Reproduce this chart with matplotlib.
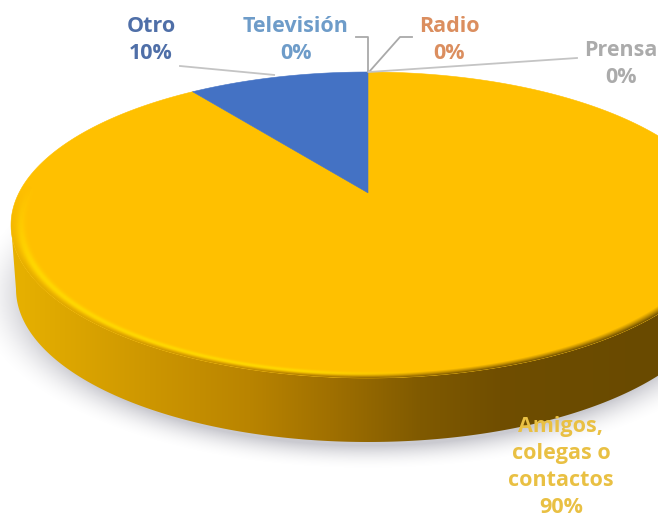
#!/usr/bin/env python3
"""Tilted 3D pie: how people heard about it, with a lit rim and soft shadow."""

import numpy as np
import matplotlib
matplotlib.use('Agg')
import matplotlib.pyplot as plt
from matplotlib.patches import Polygon, Ellipse

plt.rcParams['font.family'] = ['Open Sans', 'DejaVu Sans']

W, H = 658, 520

# clockwise from twelve o'clock
CATEGORIES = ['Amigos,\ncolegas o\ncontactos', 'Otro', 'Televisión', 'Radio', 'Prensa']
VALUES = [90, 10, 0, 0, 0]
COLORS = ['#FFC000', '#4472C4', '#5B9BD5', '#ED7D31', '#A5A5A5']
LABEL_COLORS = ['#E9C043', '#4F6FA8', '#6E9CC9', '#DB8E5F', '#ABABAB']

# ── Geometry (pixels) ────────────────────────────────────────────────────────
CX, CY = 368, 225       # top ellipse centre
A, B = 357, 153         # top ellipse radii
DEPTH = 64              # thickness of the disc
K = 0.21                # perspective shift of the pie centre


def rim_point(turn):
    """Project a pie angle (fraction of a full turn) onto the top ellipse."""
    t = 2 * np.pi * np.asarray(turn, dtype=float)
    d = 1 + K * np.cos(t)
    u = np.sqrt(1 - K**2) * np.sin(t) / d
    v = (np.cos(t) + K) / d
    return CX + A * u, CY - B * v


fig = plt.figure(figsize=(W / 100, H / 100), dpi=100)
ax = fig.add_axes([0, 0, 1, 1])
ax.axis('off')

xx, yy = np.meshgrid(np.arange(W) + 0.5, np.arange(H) + 0.5)
extent = (0, W, H, 0)

# ── Ground shadow ────────────────────────────────────────────────────────────
r_sh = np.hypot((xx - CX) / (A - 2), (yy - (CY + DEPTH + 6)) / (B + 4))
shadow = np.zeros((H, W, 4))
shadow[..., :3] = (0.66, 0.66, 0.70)
shadow[..., 3] = 0.6 * np.clip((1.11 - r_sh) / 0.15, 0, 1) ** 1.8
ax.imshow(shadow, extent=extent, zorder=1, aspect='auto', interpolation='bilinear')

# ── Side wall ────────────────────────────────────────────────────────────────
stops_x = [10, 60, 150, 250, 330, 420, 500, 560, 658]
stops_r = [232, 222, 205, 185, 160, 128, 112, 108, 105]
stops_g = [178, 168, 150, 132, 112, 90, 78, 76, 74]
wall = np.zeros((H, W, 3))
wall[..., 0] = np.interp(xx, stops_x, stops_r) / 255
wall[..., 1] = np.interp(xx, stops_x, stops_g) / 255

th = np.linspace(0, np.pi, 300)
ex, ey = CX + A * np.cos(th), CY + B * np.sin(th)
bx, by = CX + (A - 5) * np.cos(th), CY + DEPTH + B * np.sin(th)
wall_poly = Polygon(np.r_[np.c_[ex, ey], np.c_[bx, by][::-1]], closed=True,
                    fc='none', ec='none')
ax.add_patch(wall_poly)
im = ax.imshow(wall, extent=extent, zorder=2, aspect='auto', interpolation='bilinear')
im.set_clip_path(wall_poly)

# ── Top face wedges, drawn from the values ───────────────────────────────────
turns = np.r_[0, np.cumsum(VALUES)] / np.sum(VALUES)
apex = (CX, CY - B * K)
for i, col in enumerate(COLORS):
    if VALUES[i] == 0:
        continue
    s = np.linspace(turns[i], turns[i + 1], 400)
    rx, ry = rim_point(s)
    pts = np.r_[[apex], np.c_[rx, ry]]
    ax.add_patch(Polygon(pts, closed=True, fc=col, ec=col, lw=0.4, zorder=3))

# ── Bevel along the front of the top face ────────────────────────────────────
r = np.hypot((xx - CX) / A, (yy - CY) / B)
front = np.clip((yy - (CY - 40)) / 80, 0, 1)
roll = np.zeros((H, W, 4))
roll[..., :3] = wall
roll[..., 3] = np.clip((r - 0.968) / 0.032, 0, 1) ** 1.2 * front
lit = np.clip((430 - xx) / 130, 0, 1)
glow = np.zeros((H, W, 4))
glow[..., :3] = (1.0, 0.86, 0.0)
glow[..., 3] = 0.85 * np.exp(-((r - 0.972) / 0.012) ** 2) * lit * front
top_clip = Ellipse((CX, CY), 2 * A, 2 * B, fc='none', ec='none')
ax.add_patch(top_clip)
for layer, z in ((roll, 4), (glow, 4.1)):
    img = ax.imshow(layer, extent=extent, zorder=z, aspect='auto', interpolation='bilinear')
    img.set_clip_path(top_clip)

ax.set_xlim(0, W)
ax.set_ylim(H, 0)

# ── Leader lines ─────────────────────────────────────────────────────────────
top_x, top_y = rim_point(0.0)
mid_x, mid_y = rim_point((turns[1] + turns[2]) / 2)
LINE = '#C4C4C4'
ax.plot([180, mid_x - 4], [66, mid_y - 2], color=LINE, lw=1.3, zorder=5)
ax.plot([356, top_x, top_x], [37, 37, top_y], color='#A9A9A9', lw=1.3, zorder=5)
ax.plot([412, 400, top_x + 1], [37, 37, top_y], color='#A9A9A9', lw=1.3, zorder=5)
ax.plot([577, top_x + 1], [58, top_y], color=LINE, lw=1.3, zorder=5)

# ── Labels ───────────────────────────────────────────────────────────────────
LABEL_POS = [(561, 467), (151, 40), (296, 40), (449, 40), (621, 64)]
for name, val, col, (lx, ly) in zip(CATEGORIES, VALUES, LABEL_COLORS, LABEL_POS):
    ax.text(lx, ly, f'{name}\n{val}%', color=col, fontsize=15.5, fontweight='bold',
            ha='center', va='center', linespacing=1.38, zorder=6)

fig.savefig('out.png', dpi=100)
plt.close()
